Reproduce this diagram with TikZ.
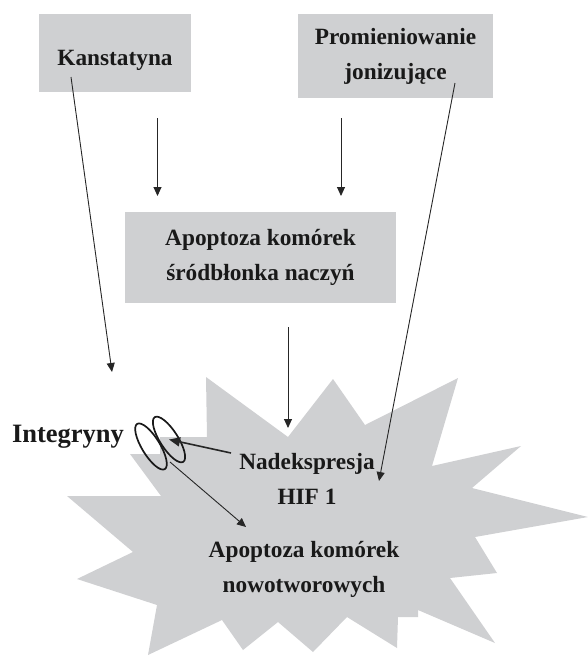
\documentclass[tikz,border=0pt]{standalone}
\usepackage{fontspec}
\setmainfont{Liberation Serif}
\usetikzlibrary{arrows.meta,shapes.geometric}
\definecolor{boxgray}{RGB}{207,208,210}
\tikzset{
  txt/.style={font=\fontsize{23.3}{35}\selectfont\bfseries, align=center, inner sep=0pt, text=black!90},
  graybox/.style={txt, fill=boxgray, inner sep=0pt},
  arr/.style={-{Triangle[length=9pt,width=8pt]}, line width=0.9pt, black!85},
  thickarr/.style={-{Triangle[length=11pt,width=9pt]}, line width=1.6pt, black!85},
  ring/.style={ellipse, draw=black!90, line width=1.7pt, inner sep=0pt, minimum width=53pt, minimum height=18pt}
}
\begin{document}
\begin{tikzpicture}[x=1pt,y=-1pt]
\useasboundingbox (0,0) rectangle (588,656);
% boxes
\node[graybox, minimum width=152pt, text height=51pt, text depth=27pt] (kan) at (115,53) {Kanstatyna};
\node[graybox, minimum width=195pt, minimum height=84pt] (prom) at (395.5,56) {Promieniowanie\\jonizujące};
\node[graybox, minimum width=271pt, minimum height=91pt] (apo) at (260.5,257.5) {Apoptoza komórek\\śródbłonka naczyń};
% star (visible part)
\fill[boxgray] (67,496) -- (133,552) -- (77,579) -- (157,605) -- (148,655) -- (222,620)
  -- (243,650) -- (278,622) -- (313,652) -- (347,617) -- (397,648) -- (398,617)
  -- (418,617) -- (418,610) -- (495,643) -- (450,578) -- (497,573) -- (475,537)
  -- (588,517) -- (472,488) -- (521,446) -- (432,466) -- (458,378) -- (365,425)
  -- (333,379) -- (288,437) -- (206,377) -- (207,437) -- (160,437) -- (160,454)
  -- (130,454) -- (161,496) -- cycle;
% free connector ends
\coordinate (a1) at (157.5,118); \coordinate (a2) at (157.5,196);
\coordinate (b1) at (341,118); \coordinate (b2) at (341,196);
\coordinate (c1) at (288,327); \coordinate (c2) at (288,428);
\coordinate (k1) at (71,77); \coordinate (k2) at (112,372);
\coordinate (p1) at (455,83); \coordinate (p2) at (379,481);
\coordinate (n1) at (231,453);
\coordinate (m1) at (170,462); \coordinate (m2) at (246,527);
% arrows
\draw[arr] (a1) -- (a2);
\draw[arr] (b1) -- (b2);
\draw[arr] (c1) -- (c2);
\draw[arr] (k1) -- (k2);
\draw[arr] (p1) -- (p2);
% integrins
\node[ring, rotate=-58.6] (e1) at (151,446.5) {};
\node[ring, rotate=-57.5] (e2) at (169,439.5) {};
% texts
\node[txt, font=\fontsize{26.5}{32}\selectfont\bfseries, anchor=base] (int) at (68,442) {Integryny};
\node[txt] (hif) at (307,479) {Nadekspresja\\HIF 1};
\node[txt] (tum) at (304,569.5) {Apoptoza komórek\\nowotworowych};
\draw[thickarr] (n1) -- (e2.center);
\draw[arr] (m1) -- (m2);
\end{tikzpicture}
\end{document}
